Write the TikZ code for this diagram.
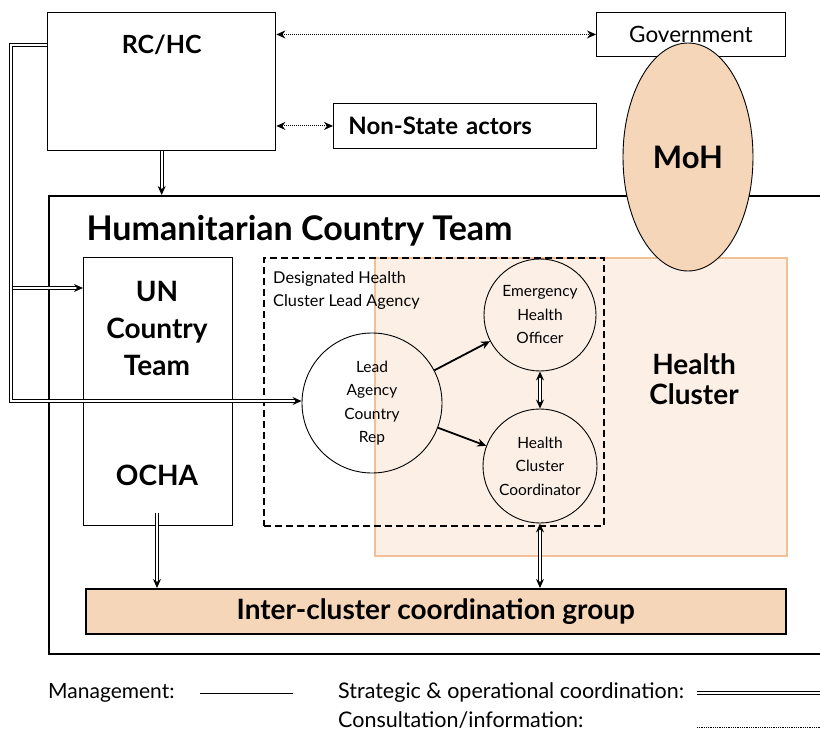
\documentclass[tikz,border=0pt]{standalone}
\usepackage{fontspec}
\setmainfont{Lato}
\usetikzlibrary{positioning,arrows.meta,shapes.geometric}
\definecolor{peach}{HTML}{F5D6B8}
\definecolor{palepeach}{HTML}{FCF0E6}
\definecolor{peachline}{HTML}{F2C096}
\tikzset{
  >={Stealth[length=9pt,width=8pt]},
  my box/.style={
    draw,
    rectangle,
    line width=0.9pt,
    inner sep=0pt,
    anchor=north west
  },
  my circle/.style={
    draw,
    circle,
    line width=0.9pt,
    inner sep=0pt,
    align=center,
    font=\fontsize{15.5}{23.5}\selectfont
  },
  my double/.style={double, double distance=2.2pt, line width=0.9pt},
  my dotted/.style={densely dotted, line width=1pt},
  my mgmt/.style={line width=1.8pt},
  big bold/.style 2 args={font=\bfseries\fontsize{#1}{#2}\selectfont, align=center}
}

\begin{document}
\begin{tikzpicture}[x=1pt,y=-1pt]
\useasboundingbox (0,0) rectangle (820,733);
% health cluster area
\node[my box, fill=palepeach, draw=peachline, line width=1.6pt, minimum width=412pt, minimum height=298pt] (hc) at (374,257) {};
\node[big bold={28}{30}] (hclab) at (694,379) {Health\\Cluster};
% humanitarian country team frame
\node[my box, line width=1.6pt, minimum width=800pt, minimum height=458pt] (hct) at (48,195) {};
\node[big bold={34}{38}, anchor=west] (hctlab) at (83,231) {Humanitarian Country Team};
% top row
\node[my box, line width=1.4pt, minimum width=228pt, minimum height=138pt] (rc) at (47,12) {};
\node[big bold={25}{28}] (rclab) at ([yshift=-33pt]rc.north) {RC/HC};
\node[my box, minimum width=189pt, minimum height=44pt, font=\fontsize{22.5}{26}\selectfont] (gov) at (596,12) {Government};
\node[my box, text width=233pt, inner xsep=15pt, minimum height=45pt, font=\bfseries\fontsize{24}{28}\selectfont] (nsa) at (333,103) {Non-State actors};
\node[ellipse, draw, fill=peach, line width=0.9pt, minimum width=130pt, minimum height=228pt, inner sep=0pt] (moh) at (688,157) {};
\node[big bold={31}{34}] (mohlab) at (moh.center) {MoH};
% un country team
\node[my box, minimum width=149pt, minimum height=268pt] (un) at (83,257) {};
\node[big bold={28}{37}] (unlab) at (157,328) {UN\\Country\\Team};
\node[big bold={28}{32}] (ocha) at (157,475) {OCHA};
% lead agency
\node[my box, dashed, dash pattern=on 7pt off 4pt, line width=1.7pt, minimum width=340pt, minimum height=268pt] (lead agency) at (263,257) {};
\node[anchor=north west, align=left, inner sep=0pt, font=\fontsize{16.3}{23}\selectfont] (ldlab) at (273,271) {Designated Health\\Cluster Lead Agency};
\node[my circle, minimum size=140pt] (lead) at (372,403) {Lead\\Agency\\Country\\Rep};
\node[my circle, minimum size=112pt] (eho) at (540,315) {Emergency\\Health\\Officer};
\node[my circle, minimum size=114pt] (hcc) at (540,466) {Health\\Cluster\\Coordinator};
% inter-cluster
\node[my box, fill=peach, line width=1.6pt, minimum width=700pt, minimum height=45pt] (icg) at (85,588) {};
\node[big bold={28}{30}] (icglab) at (icg.center) {Inter-cluster coordination group};

% connectors
\draw[<->, my dotted] (gov.west -| rc.east) -- (gov.west);
\draw[<->, my dotted] (nsa.west -| rc.east) -- (nsa.west);
\draw[->, my double] (rc.south) -- (rc.south |- hct.north);
\coordinate (bend) at (11,401);
\coordinate (split) at (12.5,288);
\draw[->, my double] ([yshift=-33pt]rc.north west) -| (bend) -- (bend -| lead.west);
\draw[->, my double] (split) -- (split -| un.west);
\draw[->, my mgmt] (lead) -- (eho);
\draw[->, my mgmt] (lead) -- (hcc);
\draw[<->, my double] (eho) -- (hcc);
\draw[<->, my double] (hcc.south) -- (hcc.south |- icg.north);
\draw[->, my double, shorten <=24pt] (ocha.south) -- (ocha.south |- icg.north);

% legend
\node[anchor=west, inner sep=0pt, font=\fontsize{21}{24}\selectfont] (mg) at (48,693) {Management:};
\draw[line width=0.9pt] (200,693) -- (293,693);
\node[anchor=west, inner sep=0pt, font=\fontsize{21.5}{24}\selectfont] (so) at (338,693) {Strategic \& operational coordination:};
\draw[my double] (697,693) -- (825,693);
\node[anchor=west, inner sep=0pt, font=\fontsize{21.5}{24}\selectfont] (ci) at (338,720) {Consultation/information:};
\draw[densely dotted, line width=0.8pt] (697,727) -- (825,727);
\end{tikzpicture}
\end{document}
